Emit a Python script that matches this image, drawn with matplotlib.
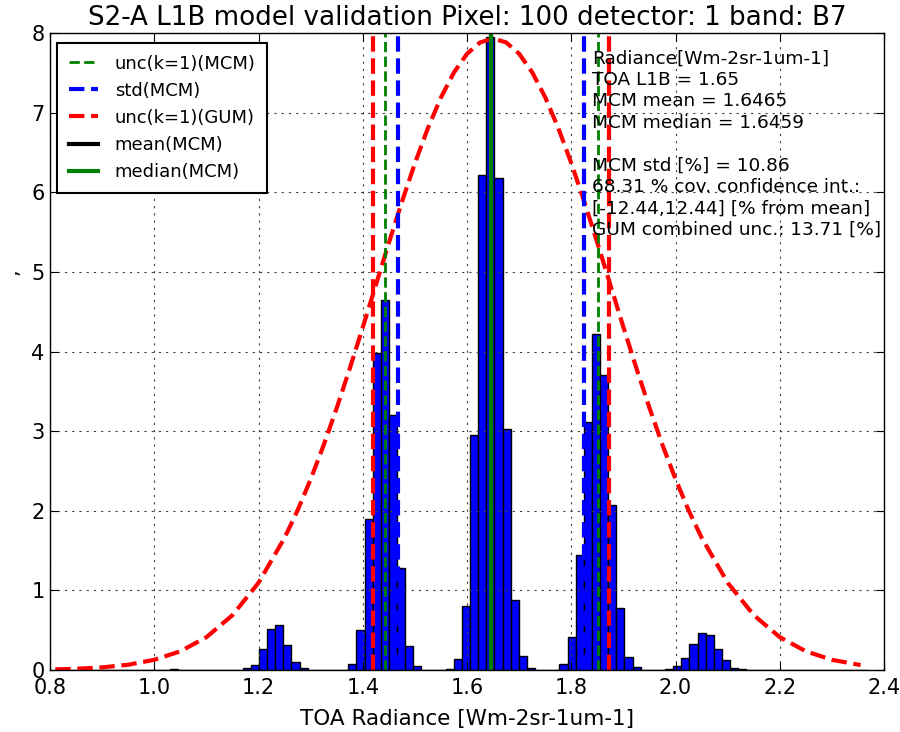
import matplotlib
matplotlib.use('Agg')
import matplotlib.pyplot as plt

# histogram of MCM samples (normalised), 100 bins
bin_start = 0.8113
bin_width = 0.01558
density = [
    0, 0, 0, 0, 0, 0, 0, 0, 0, 0,
    0, 0, 0, 0, 0.01, 0, 0, 0, 0, 0,
    0, 0, 0, 0.02, 0.06, 0.26, 0.52, 0.56, 0.31, 0.10,
    0.02, 0, 0, 0, 0, 0, 0.07, 0.50, 1.90, 3.98,
    4.65, 3.20, 1.28, 0.30, 0.05, 0, 0, 0, 0.01, 0.14,
    0.81, 2.95, 6.22, 7.95, 6.18, 3.03, 0.88, 0.17, 0.02, 0,
    0, 0, 0.08, 0.42, 1.45, 3.12, 4.22, 3.70, 2.07, 0.78,
    0.16, 0.04, 0, 0, 0, 0.01, 0.05, 0.15, 0.33, 0.46,
    0.44, 0.27, 0.13, 0.03, 0.01, 0, 0, 0, 0, 0,
    0, 0, 0, 0, 0, 0, 0, 0, 0, 0,
]

# GUM curve
gum_x = [0.81, 0.85, 0.90, 0.95, 1.00, 1.05, 1.10, 1.15, 1.20, 1.25,
         1.275, 1.30, 1.325, 1.35, 1.375, 1.40, 1.425, 1.45, 1.475, 1.50,
         1.525, 1.55, 1.575, 1.60, 1.625, 1.65, 1.675, 1.70, 1.725, 1.75,
         1.775, 1.80, 1.825, 1.85, 1.875, 1.90, 1.925, 1.95, 1.975, 2.00,
         2.025, 2.05, 2.10, 2.15, 2.20, 2.25, 2.30, 2.355]
gum_y = [0.008, 0.015, 0.033, 0.066, 0.128, 0.235, 0.412, 0.689, 1.096, 1.661,
         2.006, 2.396, 2.825, 3.291, 3.787, 4.305, 4.835, 5.365, 5.879, 6.365,
         6.807, 7.192, 7.506, 7.739, 7.882, 7.93, 7.882, 7.739, 7.506, 7.192,
         6.807, 6.365, 5.879, 5.365, 4.835, 4.305, 3.787, 3.291, 2.825, 2.396,
         2.006, 1.661, 1.096, 0.689, 0.412, 0.235, 0.128, 0.062]

unc_mcm = [1.4417, 1.8513]
std_mcm = [1.4677, 1.8253]
unc_gum = [1.4203, 1.8727]
mcm_mean = 1.6465
mcm_median = 1.6459

info = ('Radiance[Wm-2sr-1um-1]\n'
        'TOA L1B = 1.65\n'
        'MCM mean = 1.6465\n'
        'MCM median = 1.6459\n'
        '\n'
        'MCM std [%] = 10.86\n'
        '68.31 % cov. confidence int.:\n'
        '[-12.44,12.44] [% from mean]\n'
        'GUM combined unc.: 13.71 [%]')

fig = plt.figure(figsize=(9, 7.32), dpi=100)
ax = fig.add_axes([0.0556, 0.0847, 0.9267, 0.8702])

lefts = [bin_start + i * bin_width for i in range(len(density))]
ax.bar(lefts, density, width=bin_width, align='edge', color='#0000ff',
       edgecolor='black', linewidth=1.0)

ax.plot(gum_x, gum_y, color='red', linestyle='--', linewidth=3)

for i, v in enumerate(unc_mcm):
    ax.axvline(v, color='green', linestyle='--', linewidth=2,
               label='unc(k=1)(MCM)' if i == 0 else None)
for i, v in enumerate(std_mcm):
    ax.axvline(v, color='blue', linestyle='--', linewidth=3,
               label='std(MCM)' if i == 0 else None)
for i, v in enumerate(unc_gum):
    ax.axvline(v, color='red', linestyle='--', linewidth=3,
               label='unc(k=1)(GUM)' if i == 0 else None)
ax.axvline(mcm_mean, color='black', linewidth=3, label='mean(MCM)')
ax.axvline(mcm_median, color='green', linewidth=3, label='median(MCM)')

ax.text(1.84, 7.79, info, fontsize=13.3, va='top', ha='left', linespacing=1.24)

ax.set_xlim(0.8, 2.4)
ax.set_ylim(0, 8)
ax.set_xticks([0.8, 1.0, 1.2, 1.4, 1.6, 1.8, 2.0, 2.2, 2.4])
ax.set_xticklabels(['0.8', '1.0', '1.2', '1.4', '1.6', '1.8', '2.0', '2.2', '2.4'])
ax.set_yticks(range(0, 9))
ax.tick_params(direction='in', top=True, right=True, length=6, width=0.8,
               labelsize=15)
ax.tick_params(axis='x', pad=6)
ax.tick_params(axis='y', pad=4)
ax.grid(True, color='0.25', linestyle=(0, (2, 4.5)), linewidth=0.8)
for s in ax.spines.values():
    s.set_linewidth(1.0)

ax.set_title('S2-A L1B model validation Pixel: 100 detector: 1 band: B7',
             fontsize=18.8, pad=6)
ax.set_xlabel('TOA Radiance [Wm-2sr-1um-1]', fontsize=15.5, labelpad=8)
ax.set_ylabel(',', fontsize=15)
ax.yaxis.set_label_coords(-0.035, 0.625)

leg = ax.legend(loc='upper left', bbox_to_anchor=(0.0084, 0.9843), borderaxespad=0,
                fontsize=13, handlelength=1.6, handletextpad=0.95, borderpad=0.65,
                fancybox=False, framealpha=1)
leg.get_frame().set_edgecolor('black')
leg.get_frame().set_linewidth(1.5)

fig.savefig('out.png', dpi=100, facecolor='white')
